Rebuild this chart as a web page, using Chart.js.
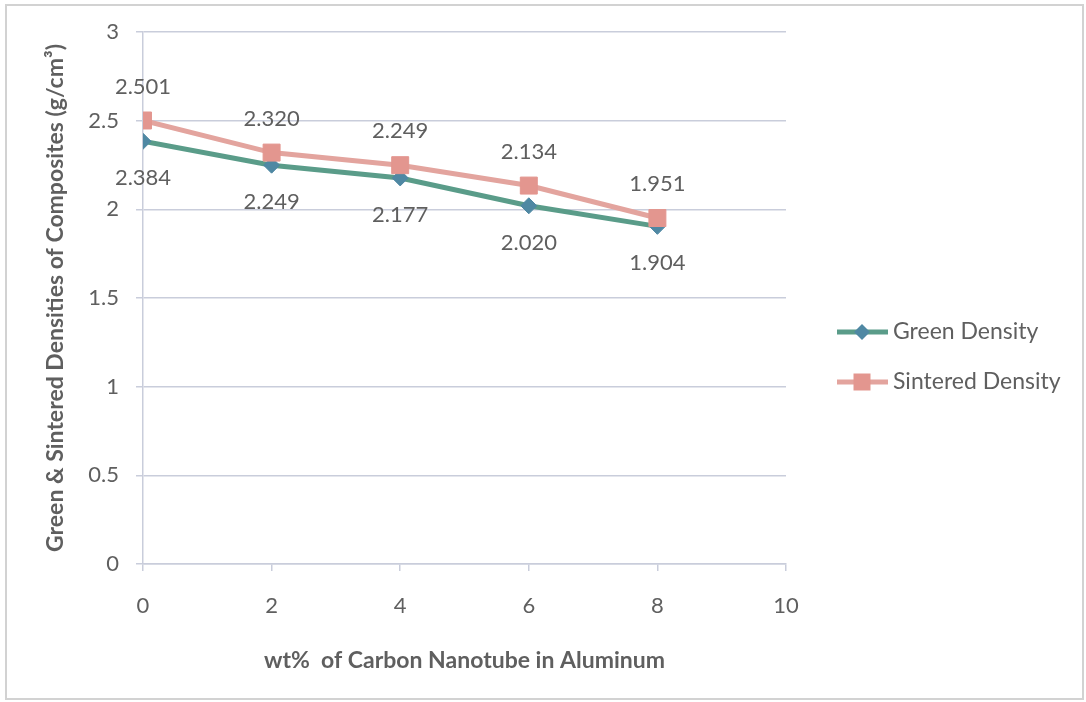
<!DOCTYPE html>
<html>
<head>
<meta charset="utf-8">
<script src="https://cdn.jsdelivr.net/npm/chart.js@4/dist/chart.umd.min.js"></script>
<style>
  html, body { margin: 0; padding: 0; background: #ffffff; }
  #wrap { width: 1086px; height: 702px; position: relative; }
</style>
</head>
<body>
<div id="wrap"><canvas id="c" width="1086" height="702"></canvas></div>
<script>
// CNT content (wt%) and measured densities (g/cm³)
const xValues = [0, 2, 4, 6, 8];
const greenDensity = [2.384, 2.249, 2.177, 2.020, 1.904];
const sinteredDensity = [2.501, 2.320, 2.249, 2.134, 1.951];
const seriesNames = ['Green Density', 'Sintered Density'];
const xTitle = 'wt%  of Carbon Nanotube in Aluminum';
const yTitle = 'Green & Sintered Densities of Composites (g/cm³)';

const TEXT = '#5f5f5f';
const GRID = '#c9cddb';
const GREEN_LINE = '#5a9c89';
const GREEN_MARK = '#4f88a3';
const PINK_LINE = '#e3a49e';
const PINK_MARK = '#e3968f';
const FONT = 'Lato';

const toPoints = (ys) => xValues.map((x, i) => ({ x: x, y: ys[i] }));

// white page with a thin grey frame
const frame = {
  id: 'frame',
  beforeDraw(chart) {
    const ctx = chart.ctx;
    ctx.save();
    ctx.fillStyle = '#ffffff';
    ctx.fillRect(0, 0, chart.width, chart.height);
    ctx.strokeStyle = '#d2d2d2';
    ctx.lineWidth = 2;
    ctx.strokeRect(6, 5, 1077, 694);
    ctx.restore();
  }
};

// value labels: sintered above the point, green below
const valueLabels = {
  id: 'valueLabels',
  afterDatasetsDraw(chart) {
    const ctx = chart.ctx;
    ctx.save();
    ctx.font = '22px ' + FONT;
    ctx.fillStyle = TEXT;
    ctx.textAlign = 'center';
    ctx.textBaseline = 'middle';
    chart.data.datasets.forEach((ds, i) => {
      const meta = chart.getDatasetMeta(i);
      meta.data.forEach((pt, j) => {
        ctx.fillText(ds.data[j].y.toFixed(3), pt.x, pt.y + ds.labelShift);
      });
    });
    ctx.restore();
  }
};

function marker(ctx, style, x, y, color) {
  ctx.fillStyle = color;
  ctx.beginPath();
  if (style === 'rect') {
    ctx.rect(x - 8.5, y - 8.5, 17, 17);
  } else {
    ctx.moveTo(x, y - 8); ctx.lineTo(x + 8, y); ctx.lineTo(x, y + 8); ctx.lineTo(x - 8, y);
    ctx.closePath();
  }
  ctx.fill();
}

// legend on the right: line with marker, then the series name
const sideLegend = {
  id: 'sideLegend',
  afterDraw(chart) {
    const ctx = chart.ctx;
    ctx.save();
    ctx.font = '23px ' + FONT;
    ctx.textBaseline = 'middle';
    ctx.textAlign = 'left';
    chart.data.datasets.forEach((ds, i) => {
      const y = 332 + i * 50;
      ctx.strokeStyle = ds.borderColor;
      ctx.lineWidth = 5;
      ctx.beginPath();
      ctx.moveTo(837, y); ctx.lineTo(888, y);
      ctx.stroke();
      marker(ctx, ds.pointStyle, 862, y, ds.pointBackgroundColor);
      ctx.fillStyle = TEXT;
      ctx.fillText(ds.label, 893, y);
    });
    ctx.restore();
  }
};

function draw() {
  new Chart(document.getElementById('c'), {
    type: 'line',
    data: {
      datasets: [
        {
          label: seriesNames[0],
          data: toPoints(greenDensity),
          borderColor: GREEN_LINE,
          borderWidth: 5,
          pointStyle: 'rectRot',
          pointRadius: 8,
          pointBackgroundColor: GREEN_MARK,
          pointBorderColor: GREEN_MARK,
          pointBorderWidth: 1,
          tension: 0,
          order: 1,
          labelShift: 37
        },
        {
          label: seriesNames[1],
          data: toPoints(sinteredDensity),
          borderColor: PINK_LINE,
          borderWidth: 5,
          pointStyle: 'rect',
          pointRadius: 12,
          pointBackgroundColor: PINK_MARK,
          pointBorderColor: PINK_MARK,
          pointBorderWidth: 1,
          tension: 0,
          order: 0,
          labelShift: -34
        }
      ]
    },
    options: {
      responsive: false,
      animation: false,
      devicePixelRatio: 1,
      layout: { padding: { left: 0, top: 32, right: 300, bottom: 0 } },
      plugins: {
        legend: { display: false },
        tooltip: { enabled: false }
      },
      scales: {
        x: {
          type: 'linear',
          min: 0,
          max: 10,
          afterFit: (s) => { s.height = 138; },
          ticks: { stepSize: 2, color: TEXT, font: { family: FONT, size: 22 }, padding: 22 },
          grid: { drawOnChartArea: false, drawTicks: true, tickLength: 7, color: GRID, lineWidth: 1.5 },
          border: { color: GRID, width: 1.5 },
          title: {
            display: true,
            text: xTitle,
            color: TEXT,
            font: { family: FONT, size: 23, weight: 'bold' },
            padding: { top: 0, bottom: 28 }
          }
        },
        y: {
          min: 0,
          max: 3,
          afterFit: (s) => { s.width = 143; },
          ticks: {
            stepSize: 0.5,
            color: TEXT,
            font: { family: FONT, size: 22 },
            padding: 17,
            callback: (v) => String(v)
          },
          grid: { color: GRID, lineWidth: 1.5, tickLength: 7 },
          border: { color: GRID, width: 1.5 },
          title: {
            display: true,
            text: yTitle,
            color: TEXT,
            font: { family: FONT, size: 23, weight: 'bold' },
            padding: { top: 42, bottom: 0 }
          }
        }
      }
    },
    plugins: [frame, valueLabels, sideLegend]
  });
}

if (document.fonts && document.fonts.load) {
  Promise.all([
    document.fonts.load('22px ' + FONT),
    document.fonts.load('bold 23px ' + FONT)
  ]).then(draw, draw);
} else {
  draw();
}
</script>
</body>
</html>
